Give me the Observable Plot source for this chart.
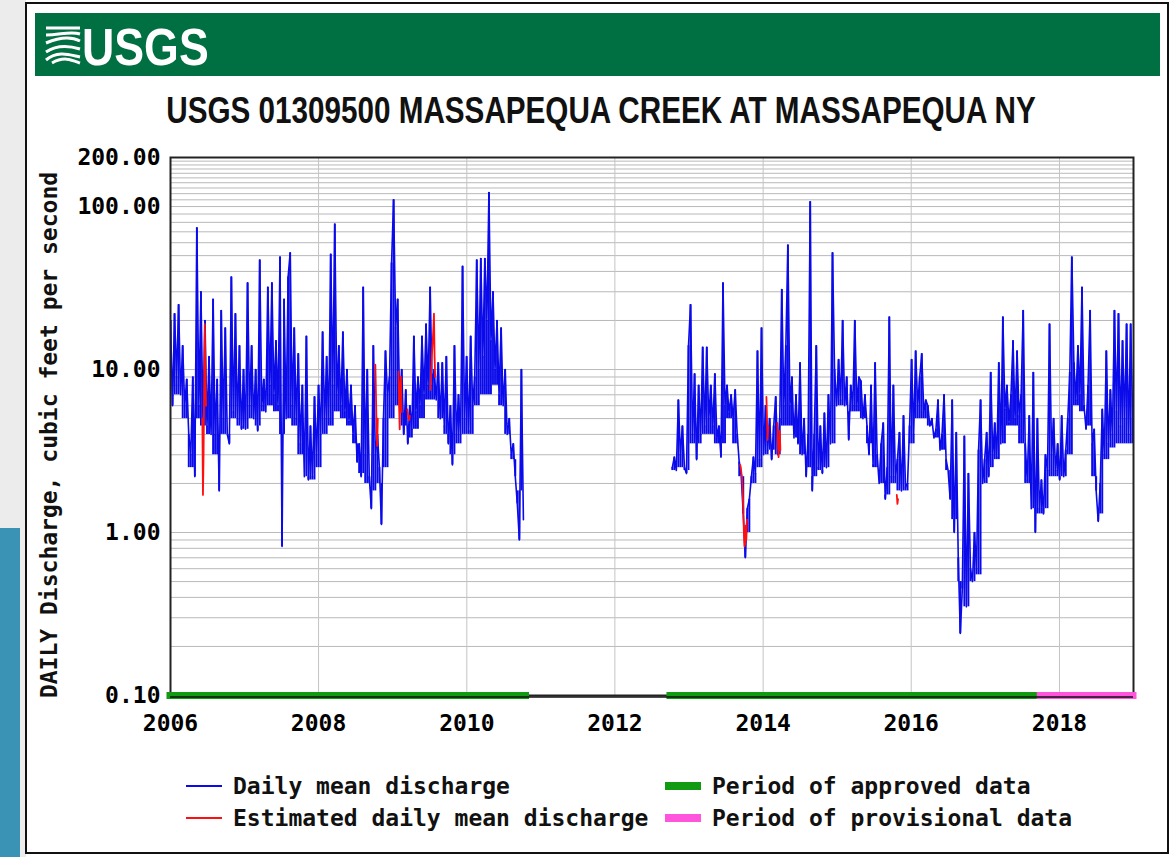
<!DOCTYPE html>
<html>
<head>
<meta charset="utf-8">
<script src="https://cdn.jsdelivr.net/npm/d3@7"></script>
<script src="https://cdn.jsdelivr.net/npm/@observablehq/plot@0.6"></script>
<style>
  body { margin: 0; background: #fff; }
  #page { position: relative; width: 1176px; height: 857px; overflow: hidden; background: #fff; }
  #deco { position: absolute; left: 0; top: 0; }
  #chart { position: absolute; left: 30px; top: 140px; }
</style>
</head>
<body>
<div id="page">
  <svg id="deco" width="1176" height="857"></svg>
  <div id="chart"></div>
</div>
<script>
// Station and labels
const stationTitle = "USGS 01309500 MASSAPEQUA CREEK AT MASSAPEQUA NY";
const yAxisTitle = "DAILY Discharge, cubic feet per second";
const legendLabels = ["Daily mean discharge", "Estimated daily mean discharge", "Period of approved data", "Period of provisional data"];

// Daily mean discharge (cfs), sampled every 10 days, first record block
const block1Start = "2006-01-01";
const block1Values = [
  20, 6, 22, 9, 25, 7, 14, 6, 8.7, 4,
  3, 9, 2.2, 74, 6, 30, 5, 20, 4.5, 12,
  4, 27, 4, 8.7, 1.8, 23, 5, 18, 4, 3.5,
  37, 5.5, 22, 5, 14, 4.3, 10, 4.3, 34, 6,
  14, 5, 10, 4.2, 47, 6, 8.7, 5.5, 32, 8,
  34, 7, 15, 6, 49, 0.82, 27, 5, 37, 52,
  6, 18, 5, 12.5, 3.5, 8, 2.2, 16, 2.1, 4.5,
  2.2, 6.8, 3, 8, 4, 17, 5, 12, 5, 51,
  8, 78, 7, 14, 6, 17, 5.5, 10, 4.8, 8,
  4, 6, 2.7, 3.5, 2.2, 32, 3, 10, 2.2, 1.4,
  14, 3, 4, 2.5, 1.12, 5, 13, 7, 9, 45,
  110, 18, 27, 6, 10, 4, 7.5, 3.5, 6, 4.3,
  16, 5.5, 9, 6, 16, 7, 19, 8, 32, 8,
  10, 6.5, 11, 5, 11, 4.5, 12, 3.5, 6, 2.6,
  14, 4, 7, 4, 43, 5, 12, 4.2, 16, 6,
  9, 47, 10, 48, 12, 48, 20, 122, 15, 30,
  10, 20, 7, 18, 6, 10, 4, 5, 3, 3.5,
  2.2, 1.5, 0.9, 10, 1.2
];
// Monthly base-flow level (cfs) under the daily values, first record block
const block1Base = [
  7, 7, 5, 2.5, 5, 4.5, 4, 3, 4, 4,
  5, 4.5, 4.3, 5, 4.5, 5.5, 6, 5.5, 4, 5,
  4.5, 3, 2.2, 2.1, 2.5, 4, 4.5, 5.5, 5, 4.5,
  3.5, 2.3, 2, 1.8, 2, 2.5, 5, 6, 4.5, 3.8,
  4.3, 5, 6.5, 6.5, 5, 4, 3, 3.5, 4, 4,
  6, 7, 7, 8, 6, 4, 2.8, 1.8, 1.2
];

// Daily mean discharge (cfs), sampled every 10 days, second record block
const block2Start = "2012-10-10";
const block2Values = [
  2.5, 2.9, 2.4, 6.5, 3, 4.5, 2.5, 2.3, 14, 25,
  4, 9.4, 2.8, 8, 4, 13.7, 4.5, 13.7, 5, 8,
  4.5, 9.4, 3.8, 4.5, 2.9, 34, 6, 8, 5.4, 7,
  5, 7.5, 4, 2.7, 2.2, 1.3, 0.7, 1.4, 1.6, 2.2,
  2.9, 2.3, 13, 2.8, 18, 3, 6, 3.2, 5, 2.8,
  4.5, 6.8, 3, 5, 31, 6, 14, 58, 6, 9,
  3.8, 7, 3.5, 11, 3, 5, 2.2, 4, 107, 1.8,
  4, 14, 2.5, 4.5, 2.3, 5.4, 2.5, 7, 3.5, 52,
  10, 6, 11.5, 6.5, 20, 6, 9, 3.7, 8, 6,
  20, 6, 9, 8.5, 5, 7, 4.5, 3, 8, 2.6,
  11, 3, 2, 3.5, 4.7, 1.6, 2.5, 21, 2.2, 8,
  2.2, 2.8, 4.1, 1.8, 5.2, 1.9, 2, 4.5, 11.5, 4,
  13, 6, 9, 12.5, 5.5, 6.5, 6, 4.5, 5, 3.8,
  4.3, 6.5, 3.2, 4, 7, 2.8, 2.4, 1.6, 6.5, 1.0,
  4.1, 0.7, 0.24, 0.45, 3.9, 0.35, 2.3, 0.6, 0.5, 1.0,
  0.6, 3.2, 6.5, 2, 2.8, 4.1, 2.2, 9.6, 3, 4.7,
  2.9, 11, 3.5, 21, 5.7, 8, 4.7, 7, 15, 5,
  13, 5.2, 7, 23, 3.5, 2.1, 5.2, 1.4, 9.6, 1.0,
  5, 1.4, 2.1, 1.3, 3, 2.4, 19, 3, 5, 2.4,
  3.5, 2.1, 5.2, 2.2, 3.2, 5, 9.6, 49, 11, 6.5,
  14, 7, 32, 6, 4.3, 8, 23, 3.5, 4.3, 1.8,
  1.17, 2, 5.7, 3, 13, 3.5, 7.5, 4, 23, 5.5,
  22, 4.5, 15, 5, 19, 4, 19, 5
];
// Monthly base-flow level (cfs) under the daily values, second record block
const block2Base = [
  2.4, 2.5, 2.4, 3.5, 3.5, 4, 4, 3.5, 3.5, 5,
  3.5, 2.2, 1, 2, 2.5, 3, 3.2, 3, 4.5, 4.5,
  3.8, 3, 2.5, 2.2, 2.4, 2.5, 3.5, 6, 6, 5.5,
  5.5, 5, 3.5, 2.5, 2, 1.7, 2, 1.8, 1.8, 3.5,
  5, 5, 4.5, 3.8, 3.2, 2.4, 1.2, 0.5, 0.35, 0.5,
  0.55, 2, 2.5, 2.8, 3.5, 4.5, 4.5, 3.5, 2, 1.4,
  1.3, 1.4, 2.2, 2.2, 2.2, 3, 6, 5.5, 4.5, 2.2,
  1.3, 2.8, 3.3, 3.5, 3.5, 3.5
];

// Estimated daily mean discharge runs, every 3 days from each start date
const estimatedStarts = ["2006-06-07", "2008-10-07", "2009-01-29", "2009-03-14", "2009-07-05", "2013-09-10", "2014-01-17", "2014-03-12", "2015-10-22"];
const estimatedRuns = [
  [5, 1.7, 3, 8, 19, 10, 6],
  [10.7, 7, 4.5, 3.4, 5],
  [9.7, 6, 4.3, 8, 9, 5.5],
  [5.7, 5.3, 5.0, 4.9, 5.2],
  [7.5, 9, 11, 13, 15, 18, 22, 12, 9],
  [2.6, 2.5, 2.3, 2.2, 1.8, 1.4, 1.0, 0.82, 0.85, 1.1, 0.9, 1.2],
  [6.8, 5, 3.7, 4.5],
  [4.7, 3.5, 2.9, 3.5, 4.2, 3.2],
  [1.7, 1.5, 1.6]
];

// Data status periods
const approvedStarts = ["2006-01-01", "2012-10-01"];
const approvedEnds = ["2010-10-20", "2017-10-01"];
const provisionalStarts = ["2017-10-01"];
const provisionalEnds = ["2019-01-01"];

// Axes
const yTickValues = [0.1, 1, 10, 100, 200];
const yGridValues = [0.2, 0.3, 0.4, 0.5, 0.6, 0.7, 0.8, 0.9, 1, 2, 3, 4, 5, 6, 7, 8, 9, 10, 20, 30, 40, 50, 60, 70, 80, 90,
  100, 110, 120, 130, 140, 150, 160, 170, 180, 190];
const xTickYears = [2006, 2008, 2010, 2012, 2014, 2016, 2018];
const xGridYears = [2008, 2010, 2012, 2014, 2016, 2018];
const xDomain = ["2006-01-01", "2019-01-01"];

// Colours
const blue = "#0a0aea";
const red = "#ff1010";
const green = "#139a13";
const pink = "#ff55dd";
const headerGreen = "#006f41";
const monoFont = "'DejaVu Sans Mono', monospace";
const narrowFont = "'Liberation Sans Narrow', 'Liberation Sans', Arial, sans-serif";

const DAY = 864e5;
const utc = s => new Date(s + "T00:00:00Z");
const yearDate = y => new Date(Date.UTC(y, 0, 1));
// Rows at a fixed day step; each 10-day row also carries the base flow of its month
function sampled(start, values, stepDays, key, base) {
  const t0 = utc(start).getTime();
  return values.map((v, i) => ({
    date: new Date(t0 + i * stepDays * DAY),
    value: v,
    base: base ? base[Math.floor(i / 3)] : v,
    run: key
  }));
}

const dailyRows = [
  ...sampled(block1Start, block1Values, 10, "b1", block1Base),
  ...sampled(block2Start, block2Values, 10, "b2", block2Base)
];
const estimatedRows = estimatedStarts.flatMap((s, k) => sampled(s, estimatedRuns[k], 3, "e" + k));
const approvedRows = approvedStarts.map((s, k) => ({start: utc(s), end: utc(approvedEnds[k])}));
const provisionalRows = provisionalStarts.map((s, k) => ({start: utc(s), end: utc(provisionalEnds[k])}));

const chart = Plot.plot({
  width: 1130,
  height: 610,
  marginLeft: 140,
  marginRight: 27,
  marginTop: 17,
  marginBottom: 55,
  style: {fontFamily: monoFont, fontSize: "23px", fontWeight: "bold", background: "transparent", color: "#000", overflow: "visible"},
  x: {type: "utc", domain: xDomain.map(utc), ticks: xTickYears.map(yearDate), tickFormat: d3.utcFormat("%Y"), tickSize: 0, tickPadding: 19, label: null},
  y: {type: "log", domain: [0.1, 200], ticks: yTickValues, tickFormat: d => d.toFixed(2), tickSize: 0, tickPadding: 10, label: null},
  marks: [
    Plot.ruleY(yGridValues, {stroke: "#b9b9b9", strokeWidth: 1}),
    Plot.ruleX(xGridYears.map(yearDate), {stroke: "#c4c4c4", strokeWidth: 1}),
    // spread between the month's base flow and each daily value
    Plot.ruleX(dailyRows, {x: "date", y1: d => Math.min(d.base, d.value), y2: d => Math.max(d.base, d.value), stroke: blue, strokeWidth: 1.9, clip: true}),
    Plot.line(dailyRows, {x: "date", y: "value", z: "run", stroke: blue, strokeWidth: 1.6, clip: true}),
    Plot.line(estimatedRows, {x: "date", y: "value", z: "run", stroke: red, strokeWidth: 1.8, clip: true}),
    Plot.frame({stroke: "#222", strokeWidth: 2}),
    Plot.ruleY(approvedRows, {y: () => 0.1, x1: "start", x2: "end", stroke: green, strokeWidth: 7, strokeLinecap: "square"}),
    Plot.ruleY(provisionalRows, {y: () => 0.1, x1: "start", x2: "end", stroke: pink, strokeWidth: 7, strokeLinecap: "square"}),
    Plot.ruleY([0.1], {stroke: "#111", strokeWidth: 1.5, dy: 1.5})
  ]
});
document.getElementById("chart").appendChild(chart);

// Page frame, header band, title and legend
const deco = d3.select("#deco");
deco.append("rect").attr("x", 0).attr("y", 0).attr("width", 26).attr("height", 857).attr("fill", "#ececec");
deco.append("rect").attr("x", 0).attr("y", 528).attr("width", 20).attr("height", 329).attr("fill", "#3a93b5");
deco.append("rect").attr("x", 26).attr("y", 3).attr("width", 1142).attr("height", 850)
  .attr("fill", "#fff").attr("stroke", "#111").attr("stroke-width", 2);

deco.append("rect").attr("x", 35).attr("y", 13).attr("width", 1125).attr("height", 63).attr("fill", headerGreen);

// USGS wave mark
const mark = deco.append("g").attr("fill", "none").attr("stroke", "#fff").attr("stroke-width", 3).attr("stroke-linecap", "butt");
[
  "M46,28 L80,28",
  "M46,35 C60,35 70,31 80,34",
  "M46,43 C58,38 70,36 80,41",
  "M46,52 C58,44 70,46 80,49",
  "M46,60 C58,50 70,55 80,57",
  "M52,63 C64,56 72,60 80,63"
].forEach(d => mark.append("path").attr("d", d));
// condensed word mark and title: squeeze horizontally
deco.append("text").attr("transform", "translate(82,65) scale(0.86,1)")
  .attr("font-family", narrowFont)
  .attr("font-weight", "bold").attr("font-size", 52).attr("fill", "#fff")
  .text("USGS");

deco.append("text").attr("transform", "translate(601,123) scale(0.824,1)").attr("text-anchor", "middle")
  .attr("font-family", narrowFont)
  .attr("font-weight", "bold").attr("font-size", 36).attr("fill", "#111")
  .text(stationTitle);

deco.append("text")
  .attr("transform", "translate(49,435) rotate(-90)")
  .attr("text-anchor", "middle").attr("dominant-baseline", "central")
  .attr("font-family", monoFont).attr("font-weight", "bold").attr("font-size", 23).attr("fill", "#111")
  .text(yAxisTitle);

const legend = deco.append("g").attr("font-family", monoFont).attr("font-weight", "bold").attr("font-size", 23).attr("fill", "#111");
legend.append("line").attr("x1", 186).attr("x2", 222).attr("y1", 786).attr("y2", 786).attr("stroke", blue).attr("stroke-width", 2);
legend.append("line").attr("x1", 186).attr("x2", 222).attr("y1", 818).attr("y2", 818).attr("stroke", red).attr("stroke-width", 2);
legend.append("rect").attr("x", 665).attr("y", 782).attr("width", 36).attr("height", 8).attr("fill", green);
legend.append("rect").attr("x", 665).attr("y", 814).attr("width", 36).attr("height", 8).attr("fill", pink);
[[233, 786], [233, 818], [712, 786], [712, 818]].forEach(([x, y], k) => {
  legend.append("text").attr("x", x).attr("y", y).attr("dominant-baseline", "central").text(legendLabels[k]);
});
</script>
</body>
</html>
